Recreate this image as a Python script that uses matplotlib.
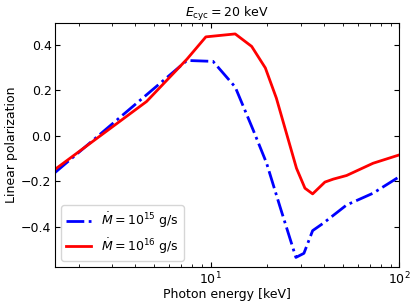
import matplotlib
matplotlib.use("Agg")
import matplotlib.pyplot as plt

# photon energy [keV] and linear polarization
energy_15 = [1.5, 7.5, 10.3, 13.5, 16.8, 19.8, 23.3, 28.3, 31.2, 34.7, 39.4,
             52.5, 72.5, 100.0]
pol_15 = [-0.162, 0.332, 0.328, 0.215, 0.026, -0.121, -0.312, -0.536, -0.518,
          -0.418, -0.386, -0.305, -0.253, -0.180]

energy_16 = [1.5, 4.58, 7.5, 9.44, 13.5, 16.5, 19.5, 22.3, 28.5, 31.6, 34.7,
             40.3, 44.6, 52.5, 72.5, 100.0]
pol_16 = [-0.148, 0.151, 0.338, 0.436, 0.449, 0.394, 0.299, 0.166, -0.143,
          -0.231, -0.256, -0.204, -0.191, -0.175, -0.121, -0.084]

fs = 9

fig = plt.figure(figsize=(4.15, 3.03), dpi=100)
ax = fig.add_axes([0.1325, 0.119, 0.83, 0.805])

ax.plot(energy_15, pol_15, color="blue", ls="-.", lw=2,
        label=r"$\dot{M} = 10^{15}$ g/s")
ax.plot(energy_16, pol_16, color="red", ls="-", lw=2,
        label=r"$\dot{M} = 10^{16}$ g/s")

ax.set_xscale("log")
ax.set_xlim(1.5, 100)
ax.set_ylim(-0.578, 0.497)
ax.set_yticks([-0.4, -0.2, 0.0, 0.2, 0.4])
ax.tick_params(which="both", direction="in", top=True, right=True,
               labelsize=fs, pad=2.5)
ax.set_xlabel("Photon energy [keV]", fontsize=fs, labelpad=1)
ax.set_ylabel("Linear polarization", fontsize=fs, labelpad=2)
ax.set_title(r"$E_{\rm cyc} = 20$ keV", fontsize=fs, pad=4)
ax.legend(loc="lower left", fontsize=fs)

fig.savefig("out.png", dpi=100)
